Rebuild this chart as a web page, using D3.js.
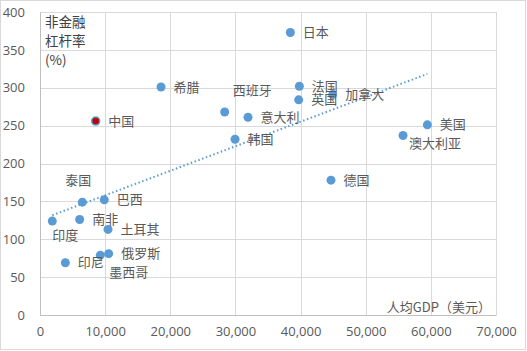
<!DOCTYPE html>
<html>
<head>
<meta charset="utf-8">
<script src="https://cdn.jsdelivr.net/npm/d3@7"></script>
<style>
  html,body{margin:0;padding:0;background:#fff;}
  svg{display:block;font-family:"Noto Sans CJK SC","Noto Sans",sans-serif;}
</style>
</head>
<body>
<svg id="chart" width="527" height="351"></svg>
<script>
// 国家、人均GDP（美元）、非金融杠杆率（%）
const countries=["日本","希腊","西班牙","意大利","韩国","法国","英国","加拿大","美国","澳大利亚","德国","中国","泰国","巴西","印度","南非","土耳其","印尼","墨西哥","俄罗斯"];
const gdpPerCapita=[38430,18580,28350,31930,29940,39810,39710,44930,59460,55730,44670,8550,6500,9870,1890,6090,10440,3890,9260,10540];
const leverage=[373,301,268,261,232,302,284,291,251,237,178,256,149,152,124,126,113,69,79,81];
const xTicks=[0,10000,20000,30000,40000,50000,60000,70000];
const yTicks=[0,50,100,150,200,250,300,350,400];

// label placement (dx, dy, anchor) – default is to the right of the point
const labelPos={
  "西班牙":{dx:8,dy:-22},
  "澳大利亚":{dx:6,dy:8},
  "泰国":{dx:-17,dy:-22},
  "印度":{dx:0,dy:14},
  "墨西哥":{dx:9,dy:17}
};

const data=countries.map((c,i)=>({name:c,x:gdpPerCapita[i],y:leverage[i]}));

const svg=d3.select("#chart");
const m={top:12,right:31,bottom:36,left:40};
const W=527,H=351;

svg.append("rect").attr("x",0.5).attr("y",0.5).attr("width",525).attr("height",349)
  .attr("fill","#fff").attr("stroke","#d9d9d9");

const x=d3.scaleLinear().domain([0,70000]).range([m.left,W-m.right]);
const y=d3.scaleLinear().domain([0,400]).range([H-m.bottom,m.top]);

// grid
svg.append("g").selectAll("line").data(yTicks).join("line")
  .attr("x1",x(0)).attr("x2",x(70000))
  .attr("y1",d=>Math.round(y(d))+0.5).attr("y2",d=>Math.round(y(d))+0.5)
  .attr("stroke","#d9d9d9");
svg.append("g").selectAll("line").data(xTicks).join("line")
  .attr("y1",y(0)).attr("y2",y(400))
  .attr("x1",d=>Math.round(x(d))+0.5).attr("x2",d=>Math.round(x(d))+0.5)
  .attr("stroke","#d9d9d9");

// axes
const fmt=d3.format(",");
const xAxis=svg.append("g").attr("transform",`translate(0,${y(0)})`)
  .call(d3.axisBottom(x).tickValues(xTicks).tickFormat(fmt).tickSize(0).tickPadding(12));
const yAxis=svg.append("g").attr("transform",`translate(${m.left},0)`)
  .call(d3.axisLeft(y).tickValues(yTicks).tickSize(0).tickPadding(15));
[xAxis,yAxis].forEach(g=>{
  g.select(".domain").attr("stroke","#bfbfbf");
  g.selectAll("text").attr("fill","#595959").style("font-size","13px")
    .style("font-family","'Open Sans','Noto Sans',sans-serif");
});

// trend line (least squares)
const mx=d3.mean(data,d=>d.x),my=d3.mean(data,d=>d.y);
const slope=d3.sum(data,d=>(d.x-mx)*(d.y-my))/d3.sum(data,d=>(d.x-mx)**2);
const icpt=my-slope*mx;
const [x0,x1]=d3.extent(data,d=>d.x);
svg.append("line")
  .attr("x1",x(x0)).attr("y1",y(icpt+slope*x0))
  .attr("x2",x(x1)).attr("y2",y(icpt+slope*x1))
  .attr("stroke","#5b9bd5").attr("stroke-width",2)
  .attr("stroke-dasharray","1.5,2.5").attr("stroke-linecap","butt");

// points
svg.append("g").selectAll("circle").data(data).join("circle")
  .attr("cx",d=>x(d.x)).attr("cy",d=>y(d.y)).attr("r",d=>d.name==="中国"?4:4.5)
  .attr("fill",d=>d.name==="中国"?"#c00000":"#5b9bd5")
  .attr("stroke",d=>d.name==="中国"?"#5b9bd5":"none")
  .attr("stroke-width",1.5);

// labels
svg.append("g").selectAll("text").data(data).join("text")
  .attr("x",d=>x(d.x)+(labelPos[d.name]?labelPos[d.name].dx:12.5))
  .attr("y",d=>y(d.y)+(labelPos[d.name]?labelPos[d.name].dy:0))
  .attr("dy","0.35em")
  .attr("fill","#595959").style("font-size","13px")
  .text(d=>d.name);

// axis titles
const yt=svg.append("text").attr("x",45).attr("fill","#404040").style("font-size","13.5px");
["非金融","杠杆率","(%)"].forEach((t,i)=>{
  yt.append("tspan").attr("x",45).attr("y",27+i*19).text(t);
});
svg.append("text").attr("x",491).attr("y",312).attr("text-anchor","end")
  .attr("fill","#595959").style("font-size","13px").text("人均GDP（美元）");
</script>
</body>
</html>
